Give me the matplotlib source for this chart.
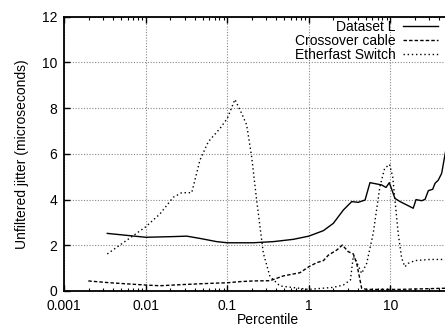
import matplotlib
matplotlib.use("Agg")
import matplotlib.pyplot as plt
from matplotlib.ticker import LogLocator, NullFormatter, FixedLocator, FixedFormatter

plt.rcParams['font.family'] = ['Liberation Sans', 'DejaVu Sans']

# Dataset L (solid)
dsl_x = [0.00337, 0.01, 0.0217, 0.0318, 0.0462, 0.074, 0.1, 0.208, 0.367, 0.646, 1.0,
         1.51, 2.0, 2.65, 3.36, 4.05, 4.9, 5.63, 7.83, 8.85, 9.73, 11.4, 13.2, 19.1,
         20.7, 24.3, 26.7, 29.3, 33.1, 35.4, 38.8, 42.7, 46.8, 50.0]
dsl_y = [2.52, 2.35, 2.38, 2.40, 2.30, 2.16, 2.11, 2.11, 2.16, 2.26, 2.40,
         2.64, 2.96, 3.54, 3.91, 3.88, 3.98, 4.74, 4.64, 4.53, 4.74, 4.05, 3.91, 3.62,
         4.00, 3.95, 4.01, 4.39, 4.45, 4.71, 4.85, 5.15, 5.95, 6.5]

# Crossover cable (dashed)
cc_x = [0.00197, 0.00364, 0.01, 0.0149, 0.0318, 0.0674, 0.1, 0.143, 0.208, 0.334,
        0.487, 0.778, 1.0, 1.25, 1.51, 1.74, 2.2, 2.58, 3.05, 3.52, 3.87, 4.45,
        5.13, 13.2, 46.8, 50.0]
cc_y = [0.44, 0.36, 0.26, 0.23, 0.29, 0.34, 0.36, 0.41, 0.44, 0.45,
        0.66, 0.80, 1.06, 1.24, 1.33, 1.57, 1.79, 2.01, 1.72, 1.62, 1.21, 0.12,
        0.07, 0.07, 0.12, 0.12]

# Etherfast Switch (dotted)
es_x = [0.00337, 0.01, 0.0149, 0.0217, 0.0276, 0.0366, 0.0462, 0.0585, 0.0813, 0.1,
        0.124, 0.150, 0.173, 0.199, 0.229, 0.277, 0.334, 0.443, 1.0, 2.0, 2.65,
        3.24, 3.52, 3.76, 4.45, 5.13, 6.17, 7.45, 8.51, 9.78, 10.7, 12.5, 13.8,
        15.1, 16.6, 20.1, 30.7, 50.0]
es_y = [1.62, 2.81, 3.37, 4.10, 4.30, 4.30, 5.73, 6.53, 7.11, 7.55,
        8.38, 7.77, 7.26, 5.87, 3.98, 1.65, 0.63, 0.22, 0.07, 0.16, 0.26,
        0.48, 1.53, 1.36, 0.77, 1.21, 2.52, 4.56, 5.36, 5.54, 5.0, 2.52, 1.43,
        1.06, 1.21, 1.33, 1.38, 1.38]

labels = ["Dataset L", "Crossover cable", "Etherfast Switch"]
x_ticks = [0.001, 0.01, 0.1, 1, 10]
x_ticklabels = ["0.001", "0.01", "0.1", "1", "10"]
y_ticks = [0, 2, 4, 6, 8, 10, 12]

W, H = 445, 328
fig = plt.figure(figsize=(W / 100, H / 100), dpi=100)
left, right_px, top, bottom = 64.3, 64.3 + 5 * 81.5, 16.7, 291.0
ax = fig.add_axes([left / W, (H - bottom) / H, (right_px - left) / W, (bottom - top) / H])

ax.plot(dsl_x, dsl_y, color='black', lw=1.0, linestyle='-', label=labels[0])
ax.plot(cc_x, cc_y, color='black', lw=1.0, linestyle=(0, (2.5, 1.5)), label=labels[1])
ax.plot(es_x, es_y, color='black', lw=1.0, linestyle=(0, (1, 2)), label=labels[2])

ax.set_xscale('log')
ax.set_xlim(0.001, 100)
ax.set_ylim(0, 12)
ax.xaxis.set_major_locator(FixedLocator(x_ticks + [100]))
ax.xaxis.set_major_formatter(FixedFormatter(x_ticklabels + [""]))
ax.xaxis.set_minor_locator(LogLocator(base=10, subs=range(2, 10)))
ax.xaxis.set_minor_formatter(NullFormatter())
ax.set_yticks(y_ticks)

ax.grid(True, which='major', color='#888888', linestyle=(0, (1, 1.5)), lw=0.8)
ax.tick_params(which='major', direction='in', length=4, width=1, top=True, right=True,
               labelsize=10)
ax.tick_params(axis='x', which='major', pad=6)
ax.tick_params(axis='y', which='major', pad=5)
ax.tick_params(which='minor', direction='in', length=2, width=0.8, top=True, right=True)
for s in ax.spines.values():
    s.set_linewidth(1.3)

ax.set_xlabel("Percentile", fontsize=10, labelpad=0)
ax.set_ylabel("Unfiltered jitter (microseconds)", fontsize=10, labelpad=9)

leg = ax.legend(loc='upper right', bbox_to_anchor=(438 / W, (H - 20) / H),
                bbox_transform=fig.transFigure, frameon=False, markerfirst=False,
                fontsize=10, handlelength=2.5, handletextpad=0.55, labelspacing=0.0,
                borderaxespad=0, borderpad=0)

fig.savefig("out.png", dpi=100)
